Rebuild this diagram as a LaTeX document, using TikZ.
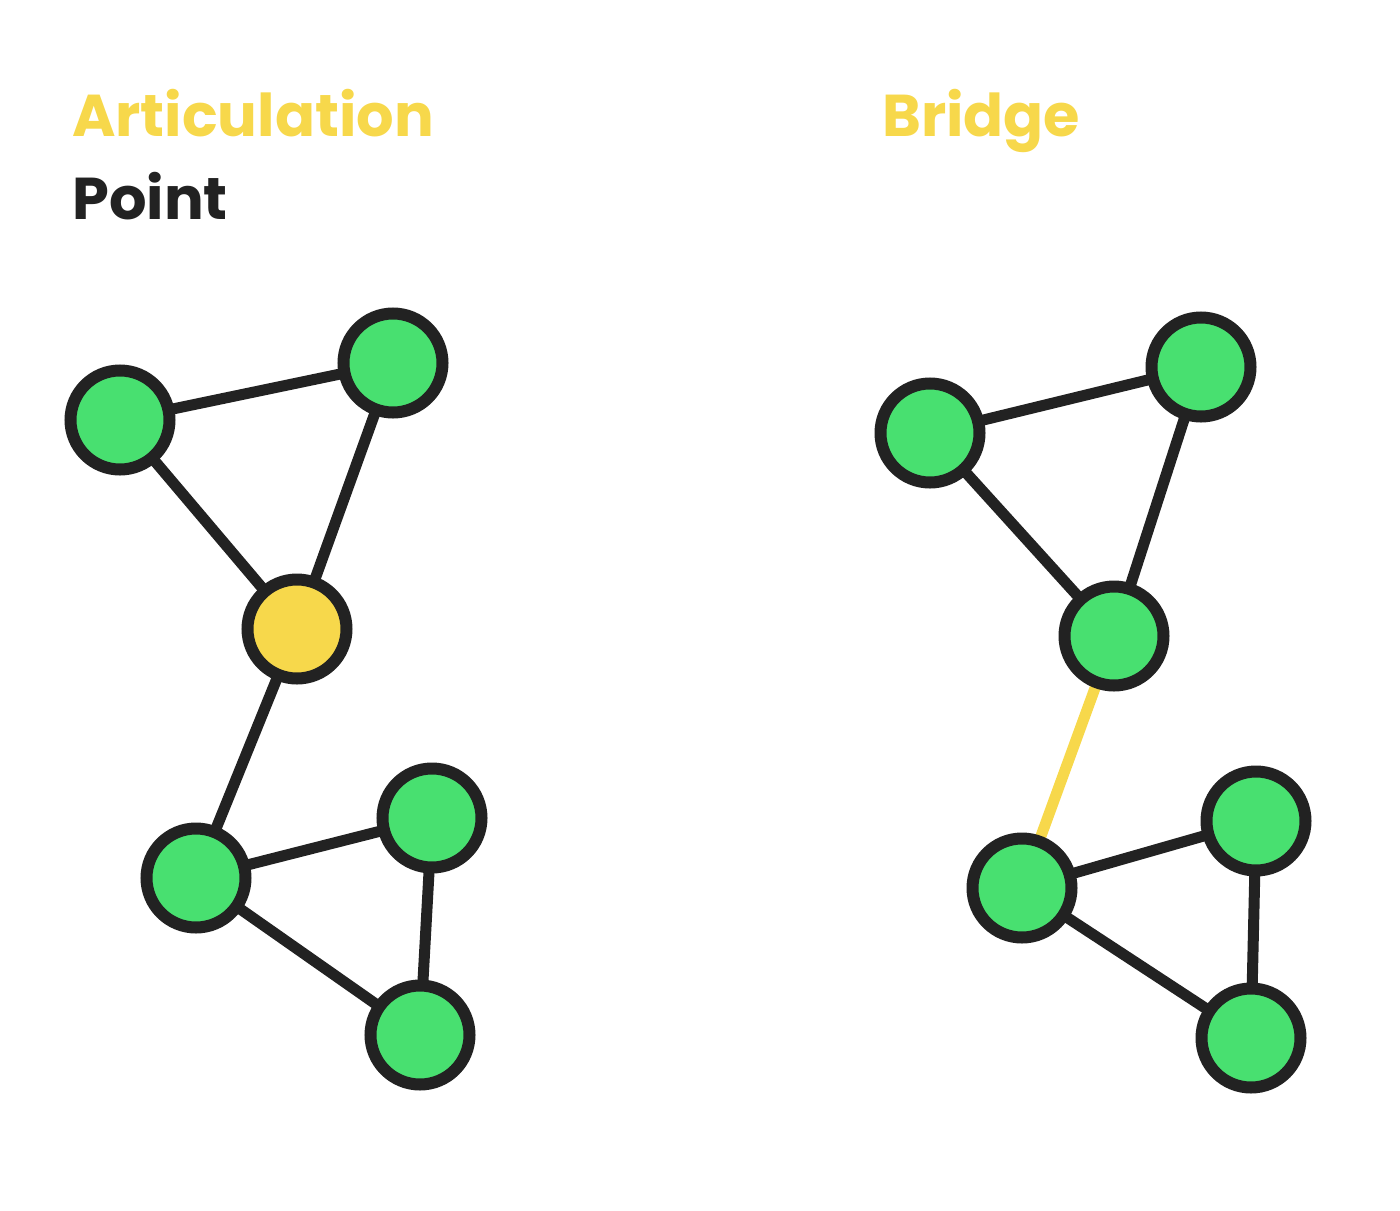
\documentclass[tikz,border=0pt]{standalone}
\usepackage{fontspec}
\setmainfont{Poppins}[BoldFont={* Bold}]
\usetikzlibrary{backgrounds}
\definecolor{ylw}{HTML}{F7D84B}
\definecolor{grn}{HTML}{48E070}
\definecolor{drk}{HTML}{222222}
\tikzset{
  vert/.style={circle, draw=drk, fill=grn, line width=12pt, minimum size=99pt, inner sep=0pt},
  cut/.style={vert, fill=ylw},
  edge/.style={draw=drk, line width=11pt},
  bridgeedge/.style={draw=ylw, line width=11pt},
  title/.style={anchor=base west, inner sep=0pt, font=\fontsize{59}{66}\selectfont\bfseries}
}
\begin{document}
\begin{tikzpicture}[x=1pt, y=-1pt]
\useasboundingbox (0,0) rectangle (1400,1210);
\node[title, text=ylw] (t1) at (72,136) {Articulation};
\node[title, text=drk] (t2) at (72,219) {Point};
\node[title, text=ylw] (t3) at (882,136) {Bridge};

\node[vert] (a1) at (120,420) {};
\node[vert] (a2) at (393,363) {};
\node[cut]  (a3) at (297,629) {};
\node[vert] (a4) at (196,878) {};
\node[vert] (a5) at (432,818) {};
\node[vert] (a6) at (420,1035) {};

\node[vert] (b1) at (930,433) {};
\node[vert] (b2) at (1201,367) {};
\node[vert] (b3) at (1114,636) {};
\node[vert] (b4) at (1022,888) {};
\node[vert] (b5) at (1256,821) {};
\node[vert] (b6) at (1251,1038) {};

\begin{scope}[on background layer]
\draw[edge] (a1.center) -- (a2.center);
\draw[edge] (a1.center) -- (a3.center);
\draw[edge] (a2.center) -- (a3.center);
\draw[edge] (a3.center) -- (a4.center);
\draw[edge] (a4.center) -- (a5.center);
\draw[edge] (a4.center) -- (a6.center);
\draw[edge] (a5.center) -- (a6.center);
\draw[edge] (b1.center) -- (b2.center);
\draw[edge] (b1.center) -- (b3.center);
\draw[edge] (b2.center) -- (b3.center);
\draw[bridgeedge] (b3.center) -- (b4.center);
\draw[edge] (b4.center) -- (b5.center);
\draw[edge] (b4.center) -- (b6.center);
\draw[edge] (b5.center) -- (b6.center);
\end{scope}
\end{tikzpicture}
\end{document}
